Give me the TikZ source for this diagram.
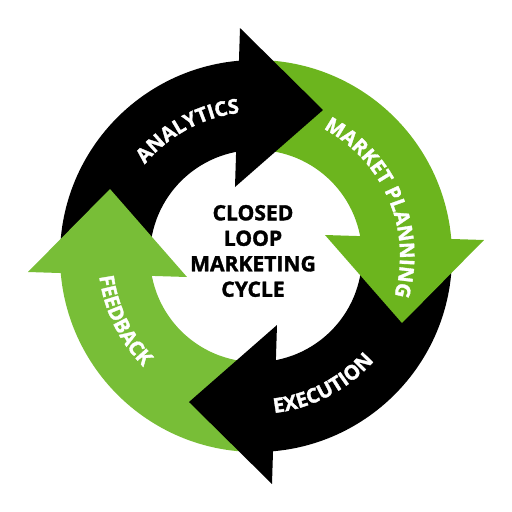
\documentclass[tikz,border=0pt]{standalone}
\usepackage{fontspec}
\setmainfont{Open Sans}[BoldFeatures={FakeBold=1.6}]
\usepackage{xcolor}
\usetikzlibrary{decorations.text}
\definecolor{plangreen}{RGB}{108,181,30}
\definecolor{feedgreen}{RGB}{120,190,55}

\begin{document}
\begin{tikzpicture}[x=0.02cm,y=0.02cm,
	arclabel/.style={decorate,decoration={text along path,text align=center,text color=white,
		text={|\bfseries\fontsize{11.5}{12}\selectfont|#1}}},
	title node/.style={align=center,font=\bfseries\fontsize{12}{14.5}\selectfont}]

				\useasboundingbox (-256,-256) rectangle (256,256);

				\foreach \a/\col [evaluate=\a as \b using int(\a-90)] in {180/black, 90/plangreen, 0/black, -90/feedgreen}
					\fill[\col] (\a:196) arc[start angle=\a, end angle=\b, radius=196] -- (\b:106) arc[start angle=\b, end angle=\a, radius=106] -- cycle;

				\foreach \r/\col in {0/black, -90/plangreen, -180/black, -270/feedgreen}
					\fill[\col, rotate=\r] (-16,228) -- (67,146) -- (-21,69) -- cycle;

				\path[arclabel=ANALYTICS] (160:144) arc[start angle=160, end angle=77, radius=144];
				\path[arclabel={MARKET PLANNING}] (75:144) arc[start angle=75, end angle=-29, radius=144];
				\path[arclabel=EXECUTION] (-110:158) arc[start angle=-110, end angle=-15, radius=158];
				\path[arclabel=FEEDBACK] (160:158) arc[start angle=160, end angle=252, radius=158];

				\node[title node] (title) at (-3,5) {CLOSED\\LOOP\\MARKETING\\CYCLE};
			\end{tikzpicture}
\end{document}
